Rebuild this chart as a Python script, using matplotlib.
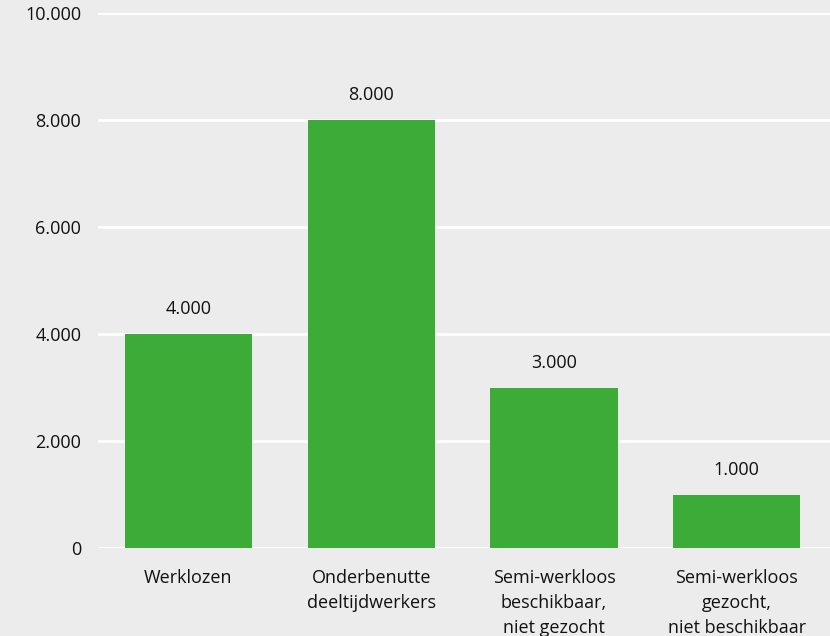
import matplotlib.pyplot as plt

plt.rcParams['font.family'] = ['Open Sans', 'DejaVu Sans']

categories = ['Werklozen', 'Onderbenutte\ndeeltijdwerkers',
              'Semi-werkloos\nbeschikbaar,\nniet gezocht',
              'Semi-werkloos\ngezocht,\nniet beschikbaar']
values = [4000, 8000, 3000, 1000]
yticks = [0, 2000, 4000, 6000, 8000, 10000]

bg = '#ececec'
green = '#3cab37'

fig = plt.figure(figsize=(8.3, 6.36), dpi=100, facecolor=bg)
ax = fig.add_axes([0.118, 0.138, 0.882, 0.842], facecolor=bg)

x = range(len(values))
ax.bar(x, values, width=0.695, color=green, zorder=3)
for i, v in zip(x, values):
    ax.text(i, v + 300, f'{v:,}'.replace(',', '.'), ha='center', va='bottom',
            fontsize=13, color='#111111')

ax.set_ylim(0, 10000)
ax.set_xlim(-0.495, 3.51)
ax.set_yticks(yticks)
ax.set_yticklabels([f'{t:,}'.replace(',', '.') for t in yticks], fontsize=13, color='#111111')
ax.set_xticks(list(x))
ax.set_xticklabels(categories, fontsize=13, color='#111111', linespacing=1.5)
ax.tick_params(length=0)
ax.tick_params(axis='x', pad=15)
ax.tick_params(axis='y', pad=12)
ax.grid(axis='y', color='white', linewidth=2, zorder=0)
ax.set_axisbelow(True)
for s in ax.spines.values():
    s.set_visible(False)

fig.savefig('out.png', dpi=100, facecolor=bg)
